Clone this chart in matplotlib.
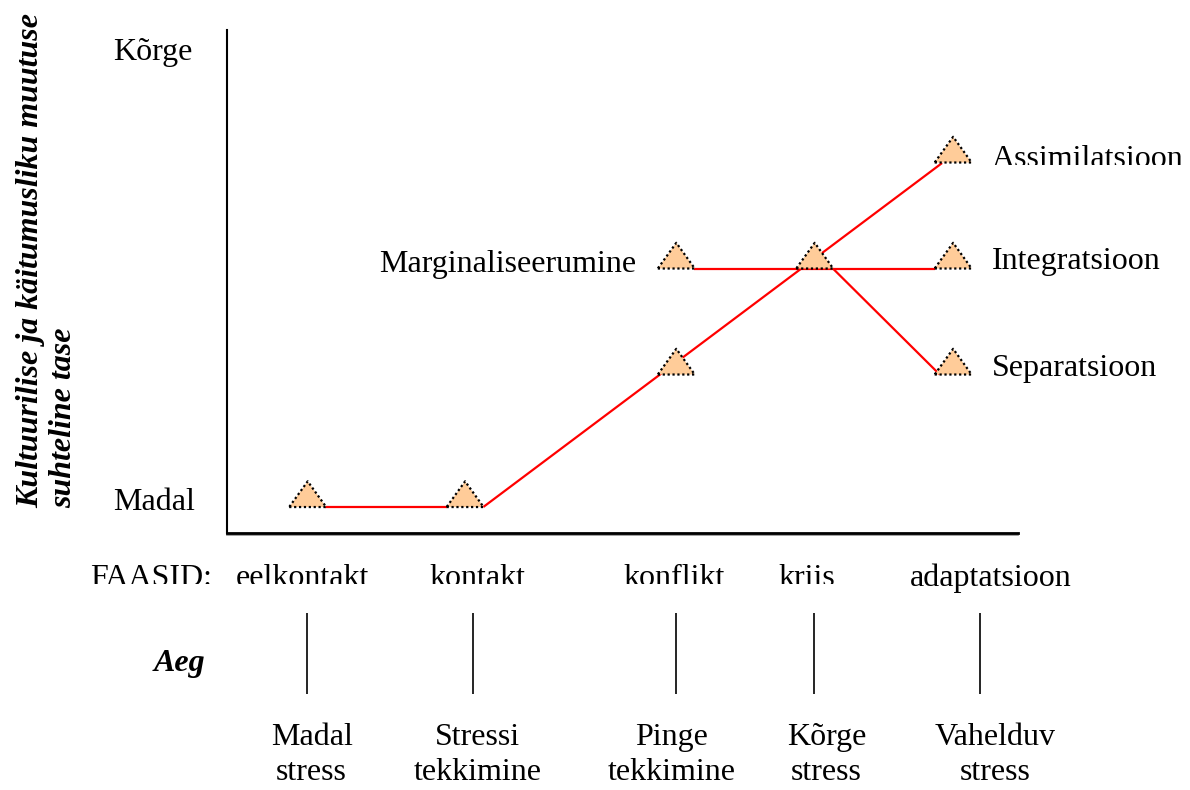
import matplotlib.pyplot as plt
from matplotlib.path import Path
from matplotlib.patches import Rectangle

# phases along the time axis
phases = ["eelkontakt", "kontakt", "konflikt", "kriis", "adaptatsioon"]
phase_label_x = [0.95, 3.17, 5.65, 7.33, 9.65]
stress_labels = ["Madal\nstress", "Stressi\ntekkimine", "Pinge\ntekkimine", "Kõrge\nstress", "Vahelduv\nstress"]
stress_x = [1.07, 3.17, 5.62, 7.58, 9.71]
time_ticks_x = [1.01, 3.11, 5.68, 7.42, 9.52]

# triangles (level of cultural / behavioural change)
tri_x = [1.02, 3.01, 5.68, 5.68, 7.43, 9.18, 9.18, 9.18]
tri_y = [0, 0, 1.25, 2.25, 2.25, 3.25, 2.25, 1.25]

# connecting lines
seg_pre_x, seg_pre_y = [1.24, 2.78], [0, 0]
seg_main_x, seg_main_y = [3.24, 9.04], [0, 3.245]
seg_int_x, seg_int_y = [5.90, 8.95], [2.25, 2.25]
seg_sep_x, seg_sep_y = [7.66, 9.01], [2.25, 1.25]

outcomes = ["Assimilatsioon", "Integratsioon", "Separatsioon"]
outcome_y = [3.21, 2.245, 1.24]

plt.rcParams['font.family'] = ['Liberation Serif', 'DejaVu Serif']
FS = 23

fig = plt.figure(figsize=(11.9, 7.9), dpi=100)
ax = fig.add_axes([227 / 1190, 1 - 533 / 790, 791 / 1190, 503 / 790])
ax.set_xlim(0, 10)
ax.set_ylim(-0.245, 4.5)
ax.set_xticks([])
ax.set_yticks([])
for s in ["top", "right"]:
    ax.spines[s].set_visible(False)
ax.spines["left"].set_linewidth(1.5)
ax.spines["bottom"].set_linewidth(2.0)
# grey shadow under the baseline
ax.axhline(-0.245 - 2.2 / 106, color="#909090", lw=1.2, clip_on=False)

red = "#ff0000"
for xs, ys in [(seg_pre_x, seg_pre_y), (seg_main_x, seg_main_y),
               (seg_int_x, seg_int_y), (seg_sep_x, seg_sep_y)]:
    ax.plot(xs, ys, color=red, lw=1.6, zorder=2, solid_capstyle="butt")

tri = Path([(-18, 0), (18, 0), (0, 25), (-18, 0)],
           [Path.MOVETO, Path.LINETO, Path.LINETO, Path.CLOSEPOLY])
ax.scatter(tri_x, tri_y, marker=tri, s=37 ** 2, facecolor="#ffcc99",
           edgecolor="black", linewidths=1.6, linestyle=(0, (1, 1.2)), zorder=3, clip_on=False)

# level labels
ax.text(-0.43, 4.22, "Kõrge", ha="right", va="baseline", fontsize=FS)
ax.text(-0.41, -0.03, "Madal", ha="right", va="baseline", fontsize=FS)

# outcome labels
clip_top = Rectangle((0, 1 - 165 / 790), 1, 165 / 790, transform=fig.transFigure,
                     facecolor="none", edgecolor="none")
fig.add_artist(clip_top)
for name, y in zip(outcomes, outcome_y):
    t = ax.text(9.67, y, name, ha="left", va="baseline", fontsize=FS, clip_on=False)
    if name == "Assimilatsioon":
        t.set_clip_path(clip_top)
        t.set_clip_on(True)
ax.text(5.18, 2.22, "Marginaliseerumine", ha="right", va="baseline", fontsize=FS)

# y axis title
fig.text(31 / 1190, 1 - 508 / 790, "Kultuurilise ja käitumusliku muutuse",
         rotation=90, ha="center", va="bottom", fontsize=FS,
         fontweight="bold", fontstyle="italic")
fig.text(64 / 1190, 1 - 508 / 790, "suhteline tase",
         rotation=90, ha="center", va="bottom", fontsize=FS,
         fontweight="bold", fontstyle="italic")

# phase row (cut at the bottom like the original text box)
clip_row = Rectangle((0, 1 - 584 / 790), 1, 40 / 790, transform=fig.transFigure,
                     facecolor="none", edgecolor="none")
fig.add_artist(clip_row)
row_y = 1 - 586 / 790
t = fig.text(90 / 1190, row_y, "FAASID:", ha="left", va="baseline", fontsize=FS)
t.set_clip_path(clip_row)
t.set_clip_on(True)
for name, x in zip(phases, phase_label_x):
    xf = (227 + x * 79.1) / 1190
    t = fig.text(xf, row_y, name, ha="center", va="baseline", fontsize=FS)
    if name != "adaptatsioon":
        t.set_clip_path(clip_row)
        t.set_clip_on(True)

# time axis
fig.text(179 / 1190, 1 - 663 / 790, "Aeg", ha="center", va="center", fontsize=FS,
         fontweight="bold", fontstyle="italic")
ax.vlines(time_ticks_x, -1.0, -1.764, color="black", lw=1.2, clip_on=False)
for lab, x in zip(stress_labels, stress_x):
    ax.text(x, -2.34, lab, ha="center", va="center", fontsize=FS,
            linespacing=1.25, clip_on=False)

fig.savefig("out.png", dpi=100)
